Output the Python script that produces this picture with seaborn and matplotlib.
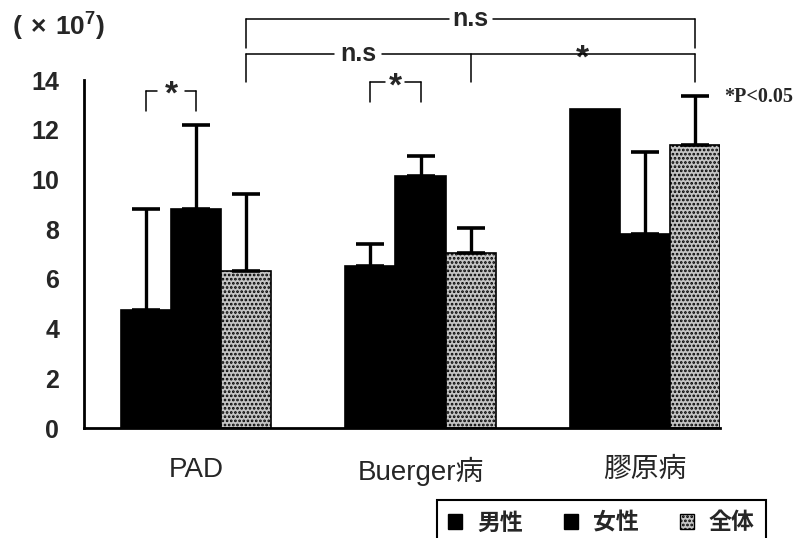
import matplotlib
matplotlib.use("Agg")
import matplotlib.pyplot as plt
import numpy as np
import pandas as pd
import seaborn as sns
from matplotlib.patches import Patch

# Cell counts (x10^7) by disease group and sex
groups = ["PAD", "Buerger病", "膠原病"]
sexes = ["男性", "女性", "全体"]
male_mean = [4.75, 6.50, 12.85]
female_mean = [8.80, 10.15, 7.80]
total_mean = [6.30, 7.05, 11.40]
male_sd = [4.05, 0.90, np.nan]
female_sd = [3.40, 0.80, 3.30]
total_sd = [3.10, 1.00, 1.95]

sns.set_style("white")
plt.rcParams["font.family"] = ["Liberation Sans", "Noto Sans CJK JP"]
plt.rcParams["hatch.linewidth"] = 1.3
plt.rcParams["mathtext.fontset"] = "custom"
plt.rcParams["mathtext.rm"] = "Liberation Sans"
plt.rcParams["mathtext.bf"] = "Liberation Sans:bold"

df = pd.DataFrame({
    "group": groups * 3,
    "sex": [s for s in sexes for _ in groups],
    "value": male_mean + female_mean + total_mean,
})
sds = [male_sd, female_sd, total_sd]

fig = plt.figure(figsize=(8.02, 5.38), dpi=100)
ax = fig.add_axes([84 / 802, 110 / 538, 636 / 802, 348 / 538])

palette = {"男性": "black", "女性": "black", "全体": "#c4c4c4"}
sns.barplot(data=df, x="group", y="value", hue="sex", order=groups,
            hue_order=sexes, palette=palette, width=0.67, errorbar=None,
            saturation=1, edgecolor="black", linewidth=1.2, legend=False,
            ax=ax)

# stippled fill for the pooled bars
for bar in ax.containers[2]:
    bar.set_hatch("....")

# one-sided SD bars
centers = []
for cont, sd in zip(ax.containers, sds):
    xs = [b.get_x() + b.get_width() / 2 for b in cont]
    ys = [b.get_height() for b in cont]
    centers.append(xs)
    for x, y, e in zip(xs, ys, sd):
        if np.isnan(e):
            continue
        ax.errorbar(x, y, yerr=[[0], [e]], fmt="none", ecolor="black",
                    elinewidth=2.4, capsize=10, capthick=2.6, zorder=5)

right_edge = max(b.get_x() + b.get_width() for b in ax.patches)
ax.set_xlim(-0.5, right_edge)
ax.set_ylim(0, 14)
ax.set_yticks(np.arange(0, 15, 2))
ax.set_yticklabels([str(v) for v in range(0, 15, 2)], fontsize=18,
                   fontweight="bold")
ax.tick_params(axis="y", direction="in", length=9, width=1.5, pad=18)

ax.set_xticks(range(len(groups)))
ax.set_xticklabels(groups, fontsize=20)
ax.tick_params(axis="x", length=0, pad=21)
ax.set_xticks([0.5, 1.5], minor=True)
ax.tick_params(axis="x", which="minor", direction="in", length=9, width=1.5)
ax.set_xlabel("")
ax.set_ylabel("")

for side in ["top", "right"]:
    ax.spines[side].set_visible(False)
for side in ["left", "bottom"]:
    ax.spines[side].set_color("black")
    ax.spines[side].set_linewidth(2)

px = 1 / 224.5  # data units per pixel along x


def bracket(xs, y, drop, label, lx, gap, size, dy=0.0):
    """Bracket across xs at height y with legs down by drop."""
    x1, x2 = xs[0], xs[-1]
    kw = dict(color="black", lw=1.1, clip_on=False, zorder=6)
    ax.plot([x1, lx - gap], [y, y], **kw)
    ax.plot([lx + gap, x2], [y, y], **kw)
    for x in xs:
        ax.plot([x, x], [y, y - drop], **kw)
    ax.text(lx, y + dy, label, ha="center", va="center", fontsize=size,
            fontweight="bold", clip_on=False)


bracket([centers[0][0], centers[1][0]], 13.57, 0.8, "*",
        (centers[0][0] + centers[1][0]) / 2, 14 * px, 24, -0.18)
bracket([centers[0][1], centers[1][1]], 13.9, 0.8, "*",
        (centers[0][1] + centers[1][1]) / 2, 10 * px, 24, -0.18)
bracket([centers[2][0], centers[2][1], centers[2][2]], 15.06, 1.16, "n.s",
        (centers[2][0] + centers[2][1]) / 2, 24 * px, 18, 0.0)
ax.text((centers[2][1] + centers[2][2]) / 2, 15.06 - 0.22, "*", ha="center",
        va="center", fontsize=24, fontweight="bold", clip_on=False,
        bbox=dict(facecolor="white", edgecolor="none", pad=8))
bracket([centers[2][0], centers[2][2]], 16.47, 1.17, "n.s",
        (centers[2][0] + centers[2][2]) / 2, 22 * px, 18, 0.0)

fig.text(12 / 802, 1 - 27 / 538, r"$\mathbf{(\,\times\,10^{7})}$",
         ha="left", va="center", fontsize=19)
fig.text(724 / 802, 1 - 97 / 538, "*P<0.05", ha="left", va="center",
         fontsize=14.5, fontweight="bold", family="Liberation Serif")

handles = [Patch(facecolor="black", edgecolor="black"),
           Patch(facecolor="black", edgecolor="black"),
           Patch(facecolor="#c4c4c4", edgecolor="black", hatch="....")]
leg = fig.legend(handles, sexes, loc="upper left",
                 bbox_to_anchor=(437 / 802, 1 - 500 / 538), ncol=3,
                 frameon=True, fancybox=False, framealpha=1,
                 edgecolor="black", borderaxespad=0, handlelength=0.6,
                 handleheight=0.6, handletextpad=0.65, columnspacing=1.8,
                 borderpad=0.5,
                 prop={"family": "Noto Sans CJK JP", "weight": "bold",
                       "size": 16.5})
leg.get_frame().set_linewidth(1.5)

fig.savefig("out.png", dpi=100)
